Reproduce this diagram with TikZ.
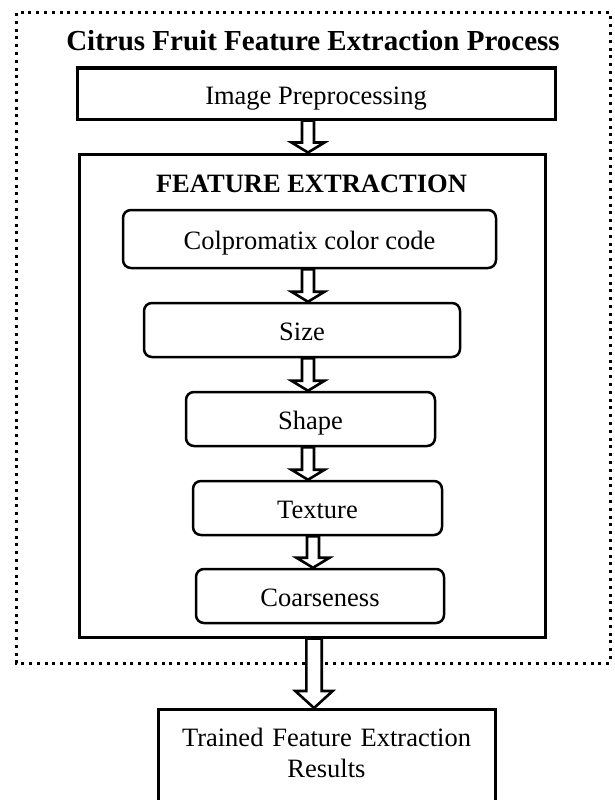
\documentclass[tikz,border=0pt]{standalone}
\usepackage{fontspec}
\setmainfont{Liberation Serif}
\usetikzlibrary{positioning}
\tikzset{pbox/.style={draw, line width=3pt, inner sep=0pt, text height=21pt, text depth=0pt},
  rbox/.style={draw, line width=2.5pt, rounded corners=8pt, inner sep=0pt, text height=21pt, text depth=0pt},
  hollowarr/.style={draw, fill=white, line width=2.6pt, line join=miter}}
\newcommand{\blockarrow}[6]{%
  \coordinate (ta) at ([xshift=#3pt]#1.south);
  \coordinate (tb) at (ta |- #2.north);
  \draw[hollowarr] ([xshift=-#4pt]ta) -- ([xshift=-#4pt,yshift=#6pt]tb)
    -- ([xshift=-#5pt,yshift=#6pt]tb) -- (tb) -- ([xshift=#5pt,yshift=#6pt]tb)
    -- ([xshift=#4pt,yshift=#6pt]tb) -- ([xshift=#4pt]ta) -- cycle;}

\begin{document}
\begin{tikzpicture}[x=1pt, y=1pt, font=\fontsize{26.5}{31}\selectfont]
  \path[use as bounding box, fill=white] (0,0) rectangle (615,-800);
  \draw[line width=3pt, dash pattern=on 3pt off 4.8pt] (16,-13) rectangle (610,-663);
  \node[anchor=base, font=\fontsize{29}{35}\selectfont\bfseries] (title) at (313,-51) {Citrus Fruit Feature Extraction Process};
  \node[pbox, minimum width=478pt, minimum height=51pt] (prep) at (316,-93.5) {Image Preprocessing};
  \node[pbox, minimum width=466pt, minimum height=483pt] (feat) at (312,-395.5) {};
  \node[anchor=base, font=\fontsize{26.5}{31}\selectfont\bfseries] (feattitle) at (311.5,-192) {FEATURE EXTRACTION};
  \node[rbox, minimum width=373pt, minimum height=58pt] (colp) at (309.5,-239) {Colpromatix color code};
  \node[rbox, minimum width=316pt, minimum height=54pt] (size) at (302,-330) {Size};
  \node[rbox, minimum width=249pt, minimum height=54pt] (shape) at (310.5,-419) {Shape};
  \node[rbox, minimum width=249pt, minimum height=54pt] (texture) at (317.5,-508) {Texture};
  \node[rbox, minimum width=248pt, minimum height=54pt] (coarse) at (320,-596) {Coarseness};
  \node[pbox, anchor=north, minimum width=337pt, text width=330pt, align=center, inner ysep=17pt,
    text height=20pt, text depth=80pt] (result) at (326.5,-708) {Trained Feature Extraction\\Results};
  \blockarrow{prep}{feat}{-8}{6}{16.5}{10}
  \blockarrow{colp}{size}{-1.5}{6}{16.5}{10}
  \blockarrow{size}{shape}{6}{6}{16.5}{10}
  \blockarrow{shape}{texture}{-2.5}{6}{16.5}{10}
  \blockarrow{texture}{coarse}{-4.5}{6}{16.5}{10}
  \blockarrow{feat}{result}{2}{7.7}{18.7}{17}
\end{tikzpicture}
\end{document}
